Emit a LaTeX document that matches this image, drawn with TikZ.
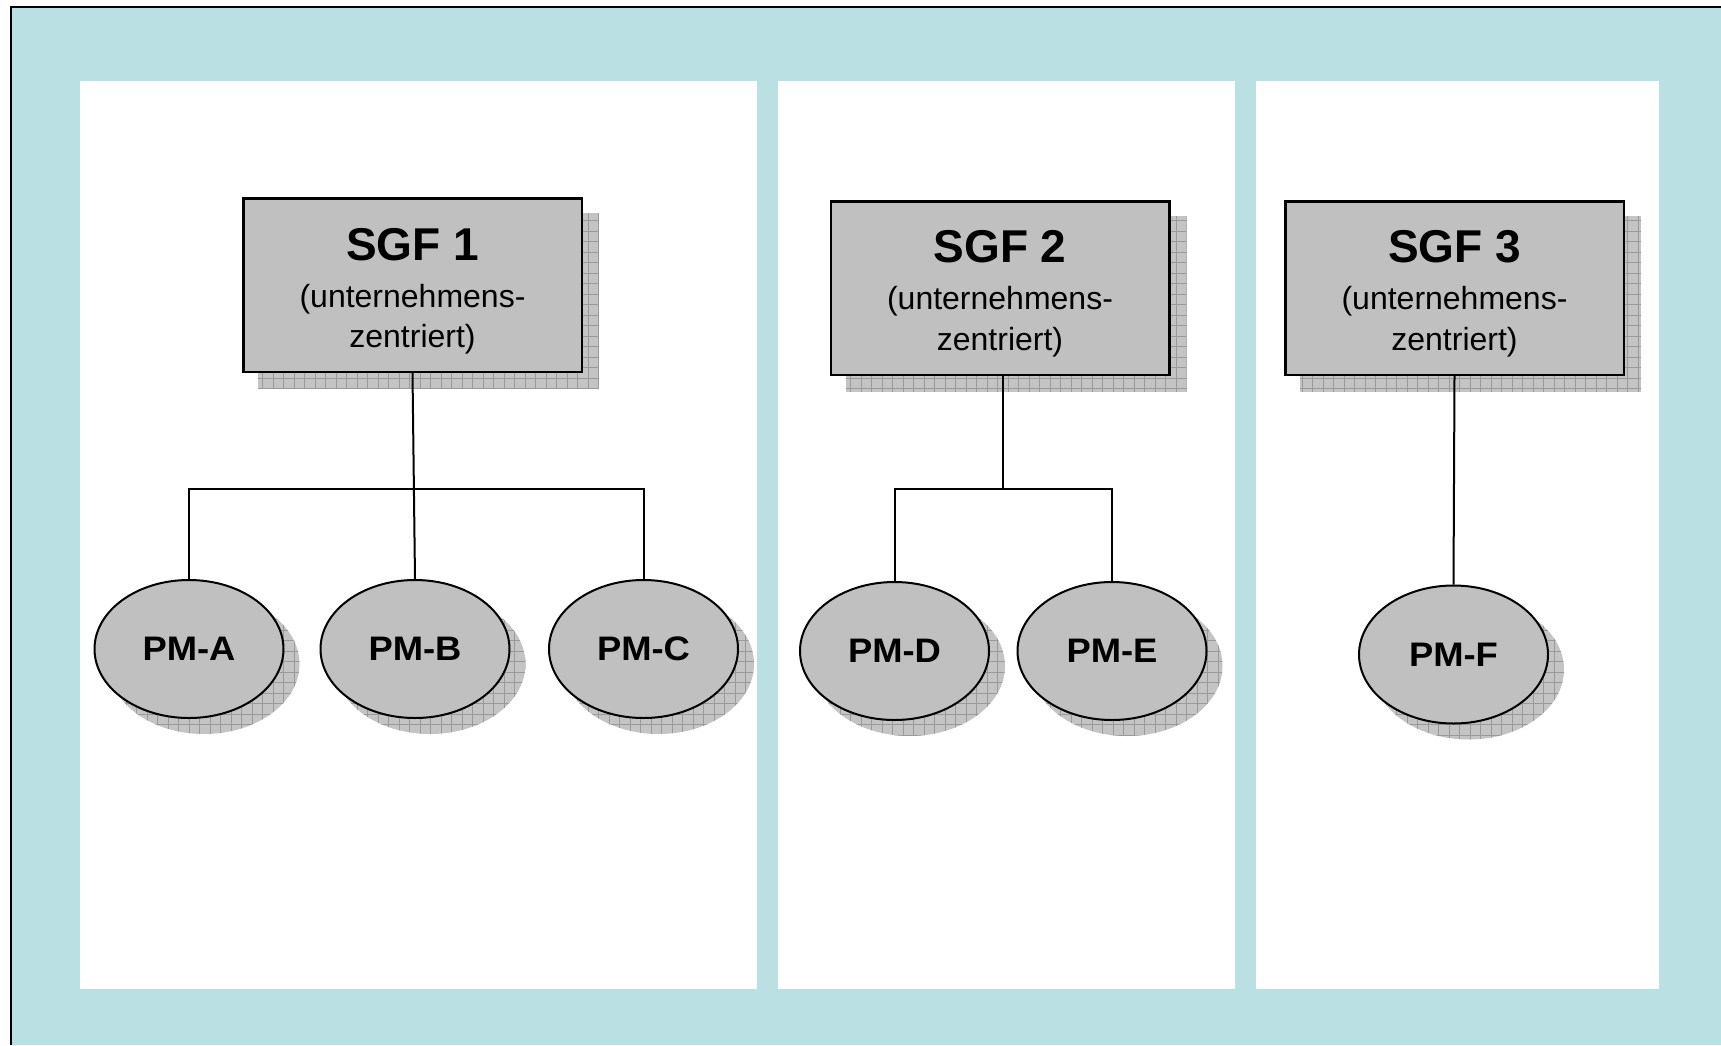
\documentclass[tikz,border=0pt]{standalone}
\usepackage{fontspec}
\setmainfont{Liberation Sans}
\usetikzlibrary{shapes.geometric}

\definecolor{canvasblue}{HTML}{BBE0E3}
\definecolor{boxgray}{HTML}{C0C0C0}
\definecolor{shadefill}{HTML}{C4C4C4}
\definecolor{shadeline}{HTML}{9A9A9A}

\pgfdeclarelayer{bg}
\pgfdeclarelayer{shade}
\pgfsetlayers{bg,shade,main}

\begin{document}
\begin{tikzpicture}[x=1pt,y=-1pt,
  sgfbox/.style={rectangle, draw=black, line width=2.5pt, fill=boxgray,
    minimum width=338.5pt, minimum height=173.5pt, inner sep=0pt},
  pmnode/.style={ellipse, draw=black, line width=2pt, fill=boxgray,
    minimum width=189pt, minimum height=138pt, inner sep=0pt,
    font=\fontsize{34}{40}\selectfont\bfseries},
  titletext/.style={anchor=base, inner sep=0pt,
    font=\fontsize{46}{52}\selectfont\bfseries},
  subtext/.style={anchor=base, inner sep=0pt,
    font=\fontsize{32}{38}\selectfont},
  link/.style={draw=black, line width=2pt, line join=miter},
  panel/.style={fill=white},
  shadegrid/.style={draw=shadeline, line width=0.8pt}
]
\useasboundingbox (0,0) rectangle (1721,1045);

% canvas, frame and the three white columns
\begin{pgfonlayer}{bg}
  \fill[white] (0,0) rectangle (1721,1045);
  \fill[canvasblue] (11,6.5) rectangle (1721,1045);
  \draw[line width=2pt] (11,1045) -- (11,6.5) -- (1721,6.5);
  \fill[panel] (80,81) rectangle (757,989);
  \fill[panel] (778,81) rectangle (1235,989);
  \fill[panel] (1256,81) rectangle (1659,989);
\end{pgfonlayer}

% business units
\node[sgfbox] (sgf1) at (412.5,285) {};
\node[sgfbox] (sgf2) at (1000,288) {};
\node[sgfbox] (sgf3) at (1454.5,288) {};

\node[titletext] (sgf1t) at (412.5,260) {SGF 1};
\node[subtext] (sgf1a) at (412.5,307.5) {(unternehmens-};
\node[subtext] (sgf1b) at (412.5,347) {zentriert)};

\node[titletext] (sgf2t) at (1000,262) {SGF 2};
\node[subtext] (sgf2a) at (1000,309.5) {(unternehmens-};
\node[subtext] (sgf2b) at (1000,350.5) {zentriert)};

\node[titletext] (sgf3t) at (1454.5,262) {SGF 3};
\node[subtext] (sgf3a) at (1454.5,309.5) {(unternehmens-};
\node[subtext] (sgf3b) at (1454.5,350.5) {zentriert)};

% product markets
\node[pmnode] (pma) at (189,649) {\scalebox{1.07}[1]{PM-A}};
\node[pmnode] (pmb) at (415,649) {\scalebox{1.07}[1]{PM-B}};
\node[pmnode] (pmc) at (643.5,649) {\scalebox{1.07}[1]{PM-C}};
\node[pmnode] (pmd) at (894.5,651) {\scalebox{1.07}[1]{PM-D}};
\node[pmnode] (pme) at (1112,651) {\scalebox{1.07}[1]{PM-E}};
\node[pmnode] (pmf) at (1453.5,654.5) {\scalebox{1.07}[1]{PM-F}};

% hatched drop shadows
\begin{pgfonlayer}{shade}
  \foreach \b in {sgf1,sgf2,sgf3}{
    \begin{scope}
      \clip ([shift={(16,16)}]\b.south west) rectangle ([shift={(16,16)}]\b.north east);
      \fill[shadefill] ([shift={(16,16)}]\b.south west) rectangle ([shift={(16,16)}]\b.north east);
      \draw[shadegrid, step=10.5pt] ([shift={(16,16)}]\b.south west) grid ([shift={(16,16)}]\b.north east);
    \end{scope}
  }
  \foreach \e in {pma,pmb,pmc,pmd,pme,pmf}{
    \begin{scope}
      \clip ([shift={(15,15)}]\e.center) ellipse [x radius=95.5pt, y radius=70pt];
      \fill[shadefill] ([shift={(-90,-65)}]\e.center) rectangle ([shift={(120,95)}]\e.center);
      \draw[shadegrid, step=10.5pt] ([shift={(-90,-65)}]\e.center) grid ([shift={(120,95)}]\e.center);
    \end{scope}
  }
\end{pgfonlayer}

% connectors
\coordinate (bar1) at (414,489);
\coordinate (bar2) at (1003,489);
\draw[link] (sgf1.south) -- (pmb.north);
\draw[link] (pma.north) |- (bar1) -| (pmc.north);
\draw[link] (sgf2.south -| bar2) -- (bar2);
\draw[link] (pmd.north) |- (bar2) -| (pme.north);
\draw[link] (sgf3.south) -- (pmf.north);
\end{tikzpicture}
\end{document}
